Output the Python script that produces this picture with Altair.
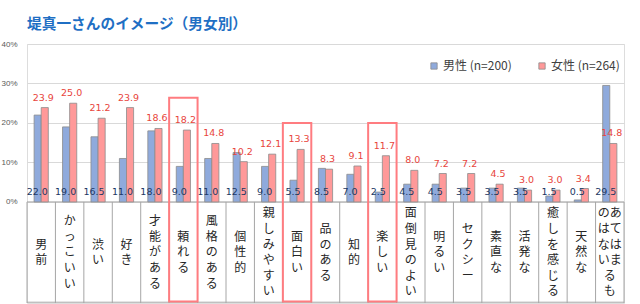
import altair as alt
import pandas as pd

categories = ["男前", "かっこいい", "渋い", "好き", "才能がある", "頼れる", "風格のある",
              "個性的", "親しみやすい", "面白い", "品のある", "知的", "楽しい", "面倒見のよい",
              "明るい", "セクシー", "素直な", "活発な", "癒しを感じる", "天然な", "あてはまるものはない"]
male = [22.0, 19.0, 16.5, 11.0, 18.0, 9.0, 11.0, 12.5, 9.0, 5.5, 8.5, 7.0, 2.5, 4.5,
        4.5, 3.5, 3.5, 3.5, 1.5, 0.5, 29.5]
female = [23.9, 25.0, 21.2, 23.9, 18.6, 18.2, 14.8, 10.2, 12.1, 13.3, 8.3, 9.1, 11.7, 8.0,
          7.2, 7.2, 4.5, 3.0, 3.0, 3.4, 14.8]
series = ["男性 (n=200)", "女性 (n=264)"]
highlight_cats = ["頼れる", "面白い", "楽しい"]
highlight_top = [26.4, 20.0, 20.0]
title_text = "堤真一さんのイメージ（男女別）"

Y_MIN, Y_MAX = -25.6, 40
PX_PER_UNIT = 3.95
LINE_PX = 15.6
CELL_MID = -12.8


def vertical_lines(c):
    # vertical Japanese writing: one character per line; long label wraps into a
    # second column placed to the left
    if c == "あてはまるものはない":
        right = "あてはまるも"
        left = "のはない"
        lines = []
        for i in range(len(right)):
            l = left[i] if i < len(left) else "　"
            lines.append(l + right[i])
        return lines
    return list(c)


rows = []
for c, m, f in zip(categories, male, female):
    rows.append({"cat": c, "series": series[0], "value": m})
    rows.append({"cat": c, "series": series[1], "value": f})
df = pd.DataFrame(rows)

cat_df = pd.DataFrame({"cat": categories, "male": male, "female": female})

line_rows = []
for c in categories:
    ls = vertical_lines(c)
    for i, ch in enumerate(ls):
        line_rows.append({"cat": c, "ch": ch, "i": i, "n": len(ls)})
line_df = pd.DataFrame(line_rows)

hl_df = pd.DataFrame({"cat": highlight_cats, "top": highlight_top})

xscale = alt.Scale(domain=categories, paddingInner=0, paddingOuter=0)
x_enc = alt.X("cat:N", scale=xscale, axis=None, sort=categories)
yscale = alt.Scale(domain=[Y_MIN, Y_MAX], nice=False, zero=False)
y_axis = alt.Axis(values=[0, 10, 20, 30, 40], labelExpr="datum.value + '%'", title=None,
                  domain=False, ticks=False, labelFontSize=8, labelColor="#595959",
                  labelPadding=10, gridColor="#D9D9D9", gridWidth=1, labelFont="Liberation Sans")

bars = alt.Chart(df).mark_bar(stroke="#8C8C8C", strokeWidth=0.8).encode(
    x=x_enc,
    xOffset=alt.XOffset("series:N", sort=series,
                        scale=alt.Scale(domain=series, paddingInner=0, paddingOuter=1)),
    y=alt.Y("value:Q", scale=yscale, axis=y_axis),
    y2=alt.datum(0),
    color=alt.Color("series:N", sort=series,
                    scale=alt.Scale(domain=series, range=["#8FAADC", "#FF9999"]),
                    legend=alt.Legend(orient="none", legendX=401, legendY=16, direction="horizontal",
                                      title=None, symbolType="square", symbolSize=40,
                                      symbolStrokeColor="#8C8C8C", symbolStrokeWidth=0.8,
                                      labelFontSize=12, labelColor="#404040", columnPadding=24,
                                      labelFont="Noto Sans CJK JP", labelOffset=3)),
)

male_labels = alt.Chart(cat_df).mark_text(fontSize=9.5, color="#203864", dx=-4,
                                          font="DejaVu Sans", baseline="middle").encode(
    x=alt.X("cat:N", scale=xscale, axis=None, sort=categories, bandPosition=0.5),
    y=alt.YDatum(2.5),
    text=alt.Text("male:Q", format=".1f"),
)

female_labels = alt.Chart(cat_df).mark_text(fontSize=9.5, color="#E8453C", dx=2, dy=-10,
                                            font="DejaVu Sans", baseline="middle").encode(
    x=alt.X("cat:N", scale=xscale, axis=None, sort=categories, bandPosition=0.5),
    y=alt.Y("female:Q"),
    text=alt.Text("female:Q", format=".1f"),
)

# table lines
vlines = alt.Chart(cat_df).mark_rule(color="#A6A6A6", strokeWidth=1).encode(
    x=alt.X("cat:N", scale=xscale, axis=None, sort=categories, bandPosition=0),
    y=alt.YDatum(0),
    y2=alt.Y2Datum(Y_MIN),
)
last_line = alt.Chart(cat_df.tail(1)).mark_rule(color="#A6A6A6", strokeWidth=1).encode(
    x=alt.X("cat:N", scale=xscale, axis=None, sort=categories, bandPosition=1),
    y=alt.YDatum(0),
    y2=alt.Y2Datum(Y_MIN),
)
hlines = alt.Chart(pd.DataFrame({"v": [0, Y_MIN + 0.2]})).mark_rule(color="#A6A6A6", strokeWidth=1).encode(
    y=alt.Y("v:Q"),
    x=alt.value(0),
    x2=alt.value(597),
)

cat_text = alt.Chart(line_df).transform_calculate(
    yc=f"{CELL_MID} - (datum.i - (datum.n - 1) / 2) * {LINE_PX / PX_PER_UNIT}"
).mark_text(fontSize=12, color="#262626", baseline="middle", font="Noto Sans CJK JP").encode(
    x=alt.X("cat:N", scale=xscale, axis=None, sort=categories, bandPosition=0.5),
    y=alt.Y("yc:Q"),
    text="ch:N",
)

hl_boxes = alt.Chart(hl_df).mark_rect(filled=False, stroke="#FF7C80", strokeWidth=2).encode(
    x=alt.X("cat:N", scale=xscale, axis=None, sort=categories),
    y=alt.Y("top:Q"),
    y2=alt.Y2Datum(Y_MIN + 0.35),
)

title = alt.Chart(pd.DataFrame({"t": [title_text]})).mark_text(
    fontSize=14.7, fontWeight="bold", color="#1F6FC4", align="left", baseline="middle",
    font="Noto Sans CJK JP").encode(
    x=alt.value(0), y=alt.value(-19), text="t:N")

chart = alt.layer(hlines, vlines, last_line, bars, male_labels, female_labels, cat_text,
                  hl_boxes, title).properties(
    width=597, height=259,
    padding={"left": 27, "top": 44, "right": 16, "bottom": 1},
    autosize=alt.AutoSizeParams(type="none"),
).configure_view(stroke=None).configure(background="white")

chart.save("out.html", embed_options={"renderer": "svg", "actions": False})
